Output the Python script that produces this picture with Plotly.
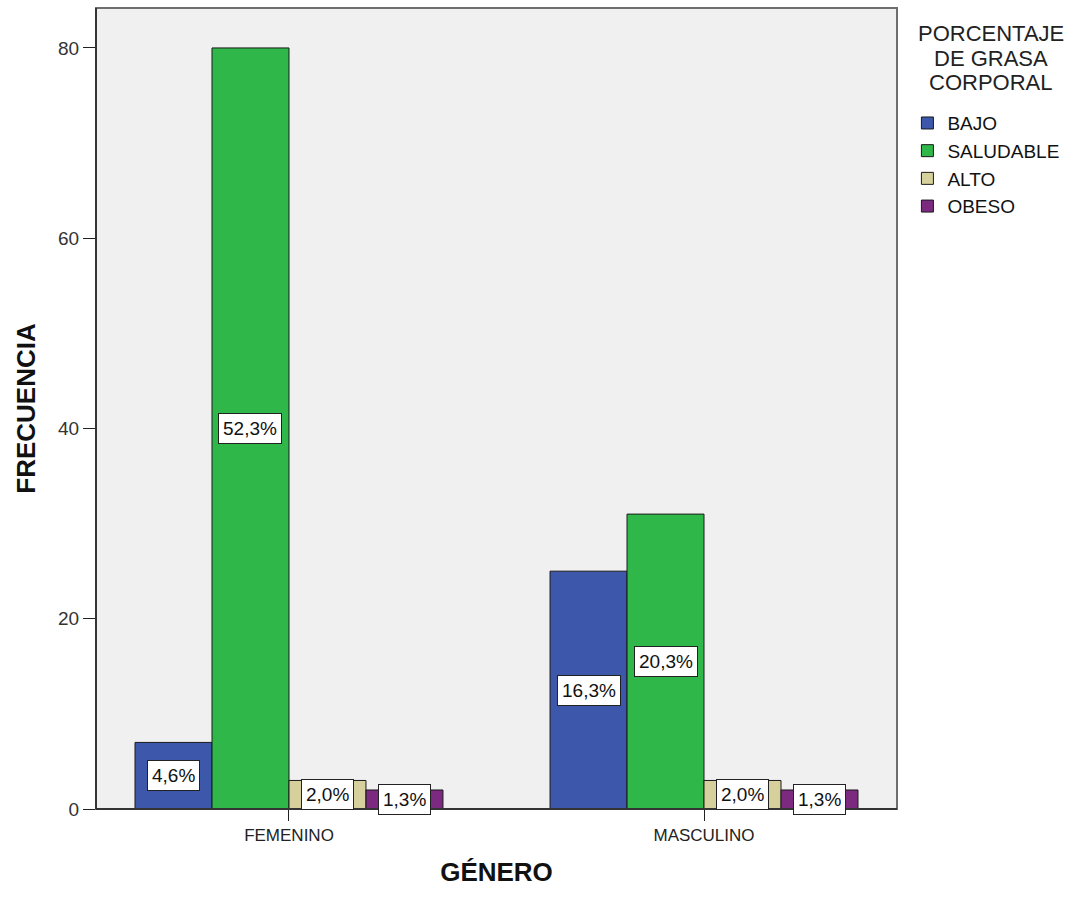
import plotly.graph_objects as go

# Data
generos = ["FEMENINO", "MASCULINO"]
niveles = ["BAJO", "SALUDABLE", "ALTO", "OBESO"]
frecuencias = {
    "BAJO": [7, 25],
    "SALUDABLE": [80, 31],
    "ALTO": [3, 3],
    "OBESO": [2, 2],
}
porcentajes = {
    "BAJO": ["4,6%", "16,3%"],
    "SALUDABLE": ["52,3%", "20,3%"],
    "ALTO": ["2,0%", "2,0%"],
    "OBESO": ["1,3%", "1,3%"],
}
colores = {
    "BAJO": "#3D57AB",
    "SALUDABLE": "#2FB74A",
    "ALTO": "#D6D19C",
    "OBESO": "#7B2A80",
}
titulo_leyenda = ["PORCENTAJE", "DE GRASA", "CORPORAL"]
y_ticks = [0, 20, 40, 60, 80]

FONT = "Liberation Sans, Arial, sans-serif"
bargap = 0.258
n = len(niveles)
bar_w = (1 - bargap) / n

fig = go.Figure()
x_pos = list(range(len(generos)))
for i, nivel in enumerate(niveles):
    fig.add_trace(go.Bar(
        name=nivel,
        x=x_pos,
        y=frecuencias[nivel],
        marker=dict(color=colores[nivel], line=dict(color="#1a1a1a", width=1)),
        legendgroup=nivel,
        hoverinfo="skip",
    ))
    # value labels centred on each bar
    for j, g in enumerate(x_pos):
        fig.add_annotation(
            x=g + (i - (n - 1) / 2) * bar_w,
            y=frecuencias[nivel][j] / 2,
            xref="x", yref="y",
            text=porcentajes[nivel][j],
            showarrow=False,
            font=dict(family=FONT, size=19, color="#111"),
            bgcolor="white",
            bordercolor="#222",
            borderwidth=1,
            borderpad=4,
        )

# legend title, one line per annotation for tight line spacing
for k, linea in enumerate(titulo_leyenda):
    fig.add_annotation(
        x=1.117, y=0.968 - k * 0.0306, xref="paper", yref="paper",
        xanchor="center", yanchor="middle",
        text=linea,
        showarrow=False,
        font=dict(family=FONT, size=22, color="#222"),
    )

fig.update_layout(
    width=1085, height=897,
    margin=dict(l=96, r=188, t=8, b=88),
    paper_bgcolor="white",
    plot_bgcolor="#F0F0F0",
    barmode="group",
    bargap=bargap,
    bargroupgap=0,
    font=dict(family=FONT, color="#222"),
    showlegend=True,
    legend=dict(
        x=1.013, y=0.88, xanchor="left", yanchor="top",
        font=dict(family=FONT, size=19, color="#111"),
        traceorder="grouped",
        tracegroupgap=0,
        bgcolor="rgba(0,0,0,0)",
        itemwidth=30,
    ),
    xaxis=dict(
        range=[-0.465, 1.465],
        tickmode="array",
        tickvals=x_pos,
        ticktext=generos,
        ticks="outside", ticklen=11, tickcolor="#222", tickwidth=1,
        tickfont=dict(family=FONT, size=17, color="#222"),
        showline=True, linecolor="#222", linewidth=1,
        showgrid=False, zeroline=False,
        title=dict(text="<b>GÉNERO</b>", font=dict(family=FONT, size=26, color="#111"), standoff=18),
    ),
    yaxis=dict(
        range=[0, 84.2],
        tickmode="array",
        tickvals=y_ticks,
        ticks="outside", ticklen=12, tickcolor="#222", tickwidth=1,
        tickfont=dict(family=FONT, size=19, color="#333"),
        showline=True, linecolor="#222", linewidth=1,
        showgrid=False, zeroline=False,
        title=dict(text="<b>FRECUENCIA</b>", font=dict(family=FONT, size=26, color="#111"), standoff=14),
    ),
)

# outer frame of the plotting area
fig.add_shape(type="rect", xref="paper", yref="paper", x0=0, y0=0, x1=1, y1=1,
              line=dict(color="#6e6e6e", width=2), layer="above")
fig.add_shape(type="line", xref="paper", yref="paper", x0=0, y0=0, x1=0, y1=1,
              line=dict(color="#222", width=1.5), layer="above")
fig.add_shape(type="line", xref="paper", yref="paper", x0=0, y0=0, x1=1, y1=0,
              line=dict(color="#222", width=1.5), layer="above")

fig.write_html("out.html")
